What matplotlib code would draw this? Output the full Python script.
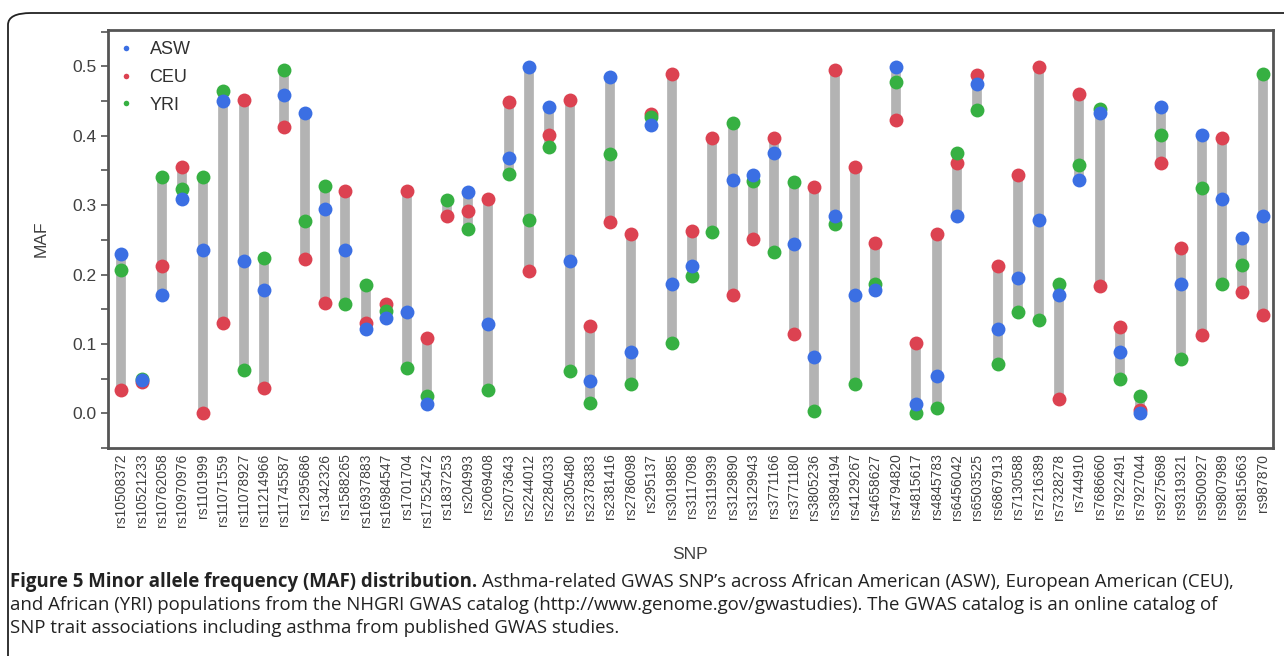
import numpy as np
import matplotlib.pyplot as plt
from matplotlib.patches import FancyBboxPatch
from matplotlib.lines import Line2D

snps = ["rs10508372", "rs10521233", "rs10762058", "rs10970976", "rs1101999",
        "rs11071559", "rs11078927", "rs11214966", "rs11745587", "rs1295686",
        "rs1342326", "rs1588265", "rs16937883", "rs16984547", "rs1701704",
        "rs17525472", "rs1837253", "rs204993", "rs2069408", "rs2073643",
        "rs2244012", "rs2284033", "rs2305480", "rs2378383", "rs2381416",
        "rs2786098", "rs295137", "rs3019885", "rs3117098", "rs3119939",
        "rs3129890", "rs3129943", "rs3771166", "rs3771180", "rs3805236",
        "rs3894194", "rs4129267", "rs4658627", "rs4794820", "rs4815617",
        "rs4845783", "rs6456042", "rs6503525", "rs6867913", "rs7130588",
        "rs7216389", "rs7328278", "rs744910", "rs7686660", "rs7922491",
        "rs7927044", "rs9275698", "rs9319321", "rs9500927", "rs9807989",
        "rs9815663", "rs987870"]

asw = [0.229, 0.048, 0.171, 0.309, 0.236, 0.450, 0.220, 0.178, 0.458, 0.433,
       0.294, 0.236, 0.122, 0.137, 0.146, 0.013, np.nan, 0.319, 0.129, 0.368,
       0.499, 0.442, 0.219, 0.047, 0.484, 0.089, 0.416, 0.187, 0.212, np.nan,
       0.336, 0.344, 0.375, 0.244, 0.081, 0.285, 0.171, 0.178, 0.499, 0.013,
       0.054, 0.285, 0.475, 0.122, 0.195, 0.278, 0.171, 0.336, 0.433, 0.088,
       0.000, 0.442, 0.187, 0.401, 0.309, 0.253, 0.285]
ceu = [0.033, 0.045, 0.212, 0.355, 0.000, 0.130, 0.452, 0.037, 0.413, 0.222,
       0.159, 0.320, 0.130, 0.158, 0.321, 0.108, 0.285, 0.291, 0.309, 0.448,
       0.205, 0.401, 0.452, 0.126, 0.276, 0.258, 0.431, 0.489, 0.263, 0.396,
       0.171, 0.251, 0.396, 0.114, 0.326, 0.494, 0.355, 0.246, 0.423, 0.101,
       0.258, 0.360, 0.488, 0.212, 0.343, 0.499, 0.021, 0.460, 0.183, 0.125,
       0.005, 0.360, 0.238, 0.113, 0.396, 0.175, 0.142]
yri = [0.207, 0.050, 0.340, 0.323, 0.340, 0.465, 0.062, 0.224, 0.494, 0.277,
       0.328, 0.157, 0.185, 0.148, 0.066, 0.025, 0.307, 0.265, 0.033, 0.345,
       0.278, 0.384, 0.061, 0.015, 0.374, 0.042, 0.427, 0.101, 0.198, 0.261,
       0.418, 0.334, 0.232, 0.333, 0.003, 0.273, 0.042, 0.186, 0.477, 0.000,
       0.008, 0.375, 0.437, 0.071, 0.146, 0.134, 0.186, 0.358, 0.439, 0.049,
       0.025, 0.401, 0.078, 0.324, 0.186, 0.214, 0.489]

blue = "#3b6fe3"
red = "#dc4251"
green = "#36b042"

plt.rcParams['font.family'] = ['Liberation Sans', 'DejaVu Sans']

fig = plt.figure(figsize=(12.84, 6.56), dpi=100)
ax = fig.add_axes([0.0841, 0.317, 0.9073, 0.637])

x = np.arange(len(snps))
allv = np.array([asw, ceu, yri])
lo = np.nanmin(allv, axis=0)
hi = np.nanmax(allv, axis=0)
ax.vlines(x, lo, hi, color="#b3b3b3", linewidth=7, zorder=1)

ax.plot(x, ceu, "o", color=red, ms=10, mec="none", zorder=2)
ax.plot(x, yri, "o", color=green, ms=10, mec="none", zorder=3)
ax.plot(x, asw, "o", color=blue, ms=10, mec="none", zorder=4)

ax.set_xlim(-0.65, len(snps) - 0.5)
ax.set_ylim(-0.05, 0.552)
ax.set_yticks([0.0, 0.1, 0.2, 0.3, 0.4, 0.5])
ax.set_yticks(np.arange(-0.05, 0.55, 0.1), minor=True)
ax.set_xticks(x)
ax.set_xticklabels(snps, rotation=90, fontsize=10, color="#404040")
ax.tick_params(axis="x", length=0, pad=4)
ax.tick_params(axis="y", which="major", length=5, width=1.2, labelsize=12.5,
               labelcolor="#404040", color="#555555")
ax.tick_params(axis="y", which="minor", length=5, width=1.2, color="#555555")
for s in ax.spines.values():
    s.set_color("#555555")
    s.set_linewidth(2)

ax.set_ylabel("MAF", fontsize=12.5, color="#404040", labelpad=17)
ax.set_xlabel("SNP", fontsize=12.5, color="#404040", labelpad=14)

handles = [Line2D([], [], ls="none", marker="o", ms=4, color=c, mec="none")
           for c in (blue, red, green)]
ax.legend(handles, ["ASW", "CEU", "YRI"], loc="upper left", frameon=False,
          fontsize=13, handlelength=0.8, handletextpad=0.9, labelspacing=0.6,
          borderaxespad=0.2, borderpad=0.4, labelcolor="#303030")

# outer rounded frame
box = FancyBboxPatch((8 / 1284, -0.1), 1.2, 1 - 13 / 656 + 0.1,
                     boxstyle="round,pad=0,rounding_size=0.018",
                     transform=fig.transFigure, fill=False,
                     edgecolor="#222222", linewidth=1.3, clip_on=False)
fig.add_artist(box)

# caption
cap_font = ['Open Sans', 'DejaVu Sans']
cap_size = 13.4
bold = fig.text(10 / 1284, 1 - 582 / 656, "Figure 5 Minor allele frequency (MAF) distribution.",
                fontsize=cap_size, fontweight="bold", family=cap_font, va="center", color="#222222")
fig.canvas.draw()
bb = bold.get_window_extent()
fig.text((bb.x1 + 5) / 1284, 1 - 582 / 656,
         "Asthma-related GWAS SNP\u2019s across African American (ASW), European American (CEU),",
         fontsize=cap_size, family=cap_font, va="center", color="#222222")
fig.text(10 / 1284, 1 - 605 / 656,
         "and African (YRI) populations from the NHGRI GWAS catalog (http://www.genome.gov/gwastudies). "
         "The GWAS catalog is an online catalog of",
         fontsize=cap_size, family=cap_font, va="center", color="#222222")
fig.text(10 / 1284, 1 - 628 / 656,
         "SNP trait associations including asthma from published GWAS studies.",
         fontsize=cap_size, family=cap_font, va="center", color="#222222")

fig.savefig("out.png", dpi=100)
